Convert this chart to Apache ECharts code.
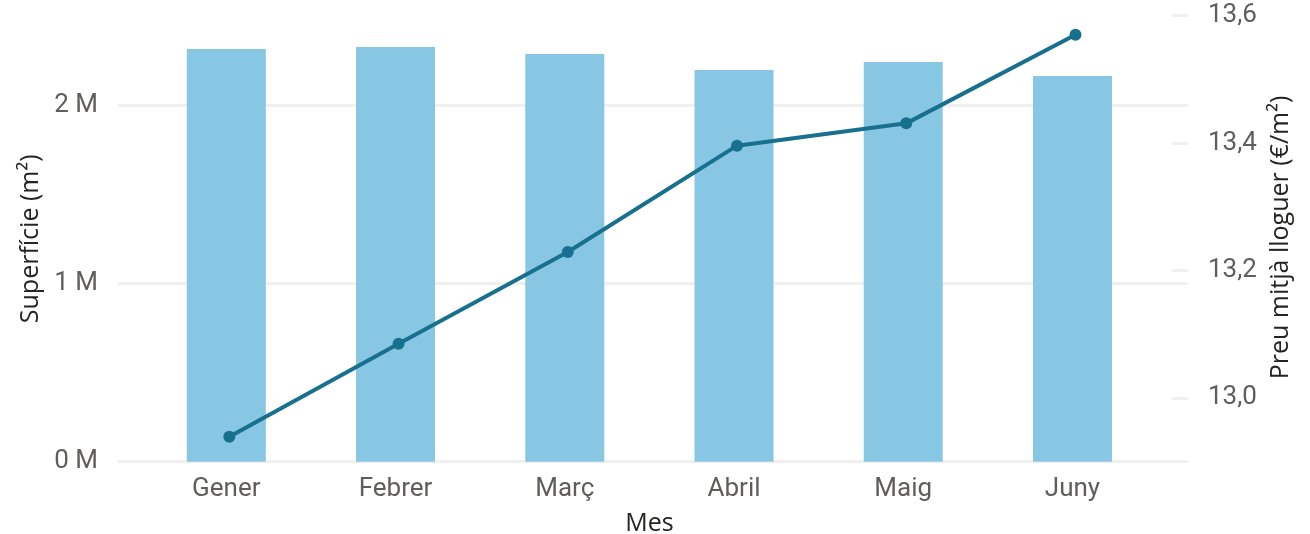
<!DOCTYPE html>
<html>
<head>
<meta charset="utf-8">
<script src="https://cdn.jsdelivr.net/npm/echarts@6/dist/echarts.min.js"></script>
<style>
  html, body { margin: 0; padding: 0; background: #fff; }
  #chart { width: 1310px; height: 534px; }
</style>
</head>
<body>
<div id="chart"></div>
<script>
// dades llegides del gràfic
var mesos = ["Gener", "Febrer", "Març", "Abril", "Maig", "Juny"];
var superficie = [2315000, 2326000, 2287000, 2197000, 2242000, 2163000];
var preuMitja = [12.939, 13.085, 13.229, 13.396, 13.431, 13.570];

var labelColor = "#605E5C";
var titleColor = "#252423";
var gridColor = "#F1F0EF";
var labelFont = "Roboto";
var titleFont = "'Open Sans'";

var myChart = echarts.init(document.getElementById("chart"));

myChart.setOption({
  animation: false,
  grid: [
    // línies de graella + eix esquerre
    { left: 118, right: 122, top: 16, bottom: 72.3, outerBoundsMode: "none" },
    // barres
    { left: 141.7, right: 152.9, top: 16, bottom: 72.3, outerBoundsMode: "none" },
    // línia
    { left: 144.7, right: 149.9, top: 15.7, bottom: 8.7, outerBoundsMode: "none" },
    // eix dret (petites marques)
    { left: 1172, right: 122, top: 15.7, bottom: 8.7, outerBoundsMode: "none" },
  ],
  xAxis: [
    { gridIndex: 0, type: "category", data: mesos, show: false },
    {
      gridIndex: 1,
      type: "category",
      data: mesos,
      axisLine: { show: false },
      axisTick: { show: false },
      axisLabel: {
        color: labelColor,
        fontFamily: labelFont,
        fontSize: 26,
        margin: 15,
      },
      name: "Mes",
      nameLocation: "middle",
      nameGap: 50,
      nameTextStyle: { color: titleColor, fontFamily: titleFont, fontSize: 25 },
    },
    { gridIndex: 2, type: "category", data: mesos, show: false },
    { gridIndex: 3, type: "category", data: [""], show: false },
  ],
  yAxis: [
    {
      gridIndex: 0,
      type: "value",
      min: 0,
      max: 2500000,
      interval: 1000000,
      axisLine: { show: false },
      axisTick: { show: false },
      axisLabel: {
        color: labelColor,
        fontFamily: labelFont,
        fontSize: 26,
        margin: 20,
        showMaxLabel: false,
        formatter: function (v) {
          return v / 1000000 + " M";
        },
      },
      splitLine: {
        show: true,
        showMaxLine: false,
        lineStyle: { color: gridColor, width: 3 },
      },
      name: "Superfície (m²)",
      nameLocation: "middle",
      nameRotate: 90,
      nameGap: 74,
      nameTextStyle: { color: titleColor, fontFamily: titleFont, fontSize: 25 },
    },
    {
      gridIndex: 1,
      type: "value",
      min: 0,
      max: 2500000,
      show: false,
      splitLine: { show: false },
    },
    {
      gridIndex: 2,
      type: "value",
      min: 12.8,
      max: 13.6,
      interval: 0.2,
      show: false,
      splitLine: { show: false },
    },
    {
      gridIndex: 3,
      type: "value",
      position: "right",
      min: 12.8,
      max: 13.6,
      interval: 0.2,
      axisLine: { show: false },
      axisTick: { show: false },
      axisLabel: {
        color: labelColor,
        fontFamily: labelFont,
        fontSize: 26,
        margin: 20,
        showMinLabel: false,
        formatter: function (v) {
          return v.toFixed(1).replace(".", ",");
        },
      },
      splitLine: {
        show: true,
        showMinLine: false,
        lineStyle: { color: gridColor, width: 3 },
      },
      name: "Preu mitjà lloguer (€/m²)",
      nameLocation: "middle",
      nameRotate: 90,
      nameGap: 80,
      nameTextStyle: {
        color: titleColor,
        fontFamily: titleFont,
        fontSize: 25,
        padding: [0, 0, 0, 66],
      },
    },
  ],
  series: [
    {
      name: "Superfície (m²)",
      type: "bar",
      xAxisIndex: 1,
      yAxisIndex: 1,
      data: superficie,
      barWidth: 79,
      itemStyle: { color: "#88C7E3" },
    },
    {
      name: "Preu mitjà lloguer (€/m²)",
      type: "line",
      xAxisIndex: 2,
      yAxisIndex: 2,
      data: preuMitja,
      symbol: "circle",
      symbolSize: 12,
      lineStyle: { color: "#18708F", width: 4 },
      itemStyle: { color: "#18708F" },
    },
  ],
});
</script>
</body>
</html>
